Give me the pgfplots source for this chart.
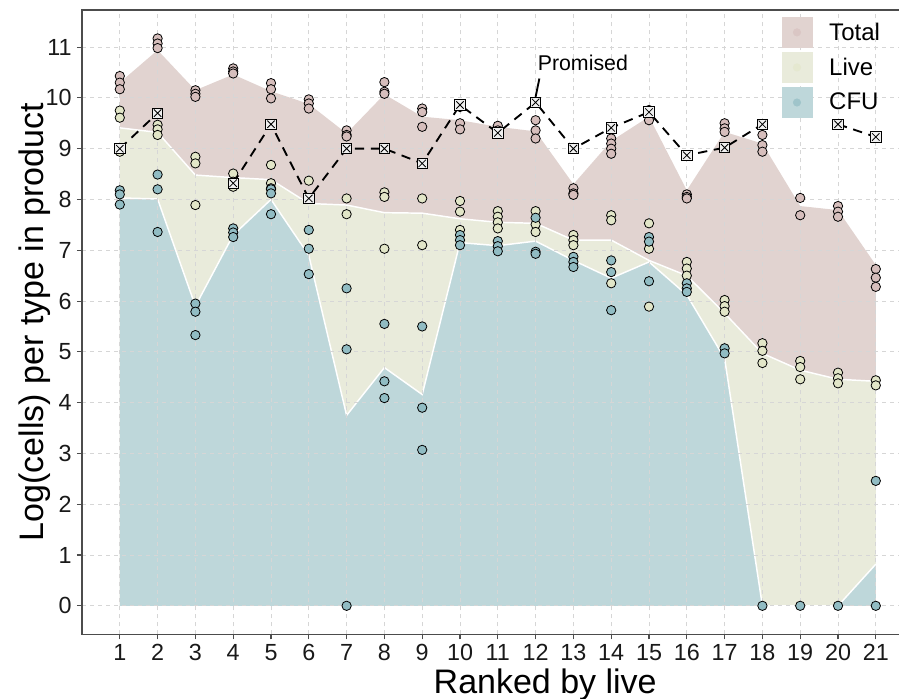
\documentclass[border=0pt]{standalone}
\usepackage{fontspec}
\setmainfont{Liberation Sans}
\usepackage{pgfplots}
\usepackage{pgfplotstable}
\pgfplotsset{compat=1.18}
\definecolor{totalfill}{RGB}{225,211,208}
\definecolor{livefill}{RGB}{233,235,219}
\definecolor{cfufill}{RGB}{190,215,218}
\definecolor{totalpt}{RGB}{214,190,188}
\definecolor{livept}{RGB}{226,230,200}
\definecolor{cfupt}{RGB}{145,188,195}

\pgfplotstableread{
x y
1 10.30
2 10.94
3 10.15
4 10.46
5 10.13
6 9.88
7 9.30
8 10.07
9 9.63
10 9.56
11 9.43
12 9.34
13 8.30
14 9.15
15 9.63
16 8.18
17 9.33
18 9.10
19 7.87
20 7.79
21 6.71
}\totalarea
\pgfplotstableread{
x y
1 9.41
2 9.32
3 8.48
4 8.43
5 8.39
6 7.92
7 7.89
8 7.74
9 7.73
10 7.62
11 7.55
12 7.53
13 7.20
14 7.20
15 6.80
16 6.50
17 5.76
18 4.97
19 4.64
20 4.46
21 4.42
}\livearea
\pgfplotstableread{
x y
1 8.03
2 8.01
3 5.90
4 7.30
5 8.00
6 6.90
7 3.75
8 4.69
9 4.16
10 7.15
11 7.09
12 7.18
13 6.80
14 6.45
15 6.77
16 6.12
17 4.87
18 0
19 0
20 0
21 0.82
}\cfuarea
\pgfplotstableread{
x y
1 10.43
1 10.30
1 10.17
2 11.17
2 11.07
2 10.98
3 10.15
3 10.08
3 10.02
4 10.58
4 10.52
4 10.48
5 10.29
5 10.17
5 9.99
6 9.97
6 9.89
6 9.79
7 9.36
7 9.27
7 9.24
8 10.31
8 10.12
8 10.08
9 9.79
9 9.72
9 9.43
10 9.82
10 9.50
10 9.38
11 9.45
11 9.36
11 9.30
12 9.56
12 9.36
12 9.20
13 8.22
13 8.12
13 8.09
14 9.20
14 9.10
14 9.00
14 8.90
15 9.76
15 9.66
15 9.56
16 8.10
16 8.05
16 8.02
17 9.50
17 9.40
17 9.33
18 9.27
18 9.07
18 8.94
19 8.03
19 7.69
20 7.87
20 7.76
20 7.66
21 6.63
21 6.46
21 6.28
}\totalpts
\pgfplotstableread{
x y
1 9.75
1 9.61
1 8.94
2 9.47
2 9.38
2 9.27
3 8.84
3 8.71
3 7.89
4 8.51
4 8.35
4 8.25
5 8.68
5 8.32
5 8.22
6 8.37
6 8.02
7 8.02
7 7.71
8 8.14
8 8.05
8 7.03
9 8.02
9 7.10
10 7.97
10 7.76
10 7.40
11 7.77
11 7.66
11 7.55
11 7.43
12 7.77
12 7.51
12 7.36
13 7.30
13 7.20
13 7.10
14 7.69
14 7.59
14 6.35
15 7.53
15 7.03
15 5.89
16 6.77
16 6.64
16 6.50
17 6.02
17 5.90
17 5.79
18 5.17
18 5.02
18 4.78
19 4.82
19 4.70
19 4.46
20 4.59
20 4.48
20 4.38
21 4.44
21 4.34
}\livepts
\pgfplotstableread{
x y
1 8.18
1 8.10
1 7.90
2 8.49
2 8.20
2 7.36
3 5.95
3 5.79
3 5.33
4 7.43
4 7.35
4 7.26
5 8.20
5 8.12
5 7.71
6 7.40
6 7.03
6 6.53
7 6.25
7 5.05
7 0
8 5.55
8 4.42
8 4.09
9 5.50
9 3.90
9 3.07
10 7.30
10 7.20
10 7.10
11 7.18
11 7.08
11 6.98
12 7.64
12 6.97
12 6.93
13 6.87
13 6.77
13 6.67
14 6.80
14 6.57
14 5.82
15 7.26
15 7.17
15 6.39
16 6.35
16 6.25
16 6.18
17 5.07
17 4.97
18 0
19 0
20 0
21 2.46
21 0
}\cfupts
\pgfplotstableread{
x y
1 9.00
2 9.70
3 nan
4 8.32
5 9.48
6 8.02
7 9.00
8 9.00
9 8.71
10 9.86
11 9.31
12 9.91
13 9.00
14 9.41
15 9.72
16 8.87
17 9.02
18 9.48
19 nan
20 9.48
21 9.23
}\promised

\begin{document}
\begin{tikzpicture}
\begin{axis}[
  set layers,
  scale only axis,
  width=623.7pt, height=468.2pt,
  xmin=0, xmax=22, ymin=-0.56, ymax=11.73,
  xtick={1,...,21}, ytick={0,...,11},
  tick pos=left,
  tick align=outside,
  major tick length=3.75pt,
  grid=major,
  grid style={dash pattern=on 3pt off 3pt, color=black!16, line width=0.6pt},
  axis line style={color=black!70, line width=0.8pt},
  tick style={color=black!70, line width=0.8pt},
  /pgf/number format/assume math mode=true,
  ticklabel style={font=\fontsize{17.5}{20}\selectfont, text=black!90},
  yticklabel style={xshift=-0.5pt},
  xlabel={Ranked by live},
  ylabel={Log(cells) per type in product},
  label style={font=\fontsize{25.5}{28}\selectfont},
  xlabel style={at={(axis description cs:0.557,-0.0803)}, anchor=center},
  ylabel style={at={(axis description cs:-0.0565,0.5)}, anchor=center},
  legend cell align=left,
  legend style={draw=none, fill=none, inner sep=0pt, outer sep=0pt,
    at={(rel axis cs:0.8414,0.9886)}, anchor=north west,
    row sep=3.4pt, nodes={inner sep=0pt},
    font=\fontsize{18}{20}\selectfont,
    /tikz/every odd column/.append style={column sep=12.75pt}},
  unbounded coords=jump,
]
% areas
\addplot[forget plot, fill=totalfill, draw=none, on layer=axis background] table[x=x,y=y] {\totalarea} \closedcycle;
\addplot[forget plot, fill=livefill, draw=none, on layer=axis background] table[x=x,y=y] {\livearea} \closedcycle;
\addplot[forget plot, fill=cfufill, draw=none, on layer=axis background] table[x=x,y=y] {\cfuarea} \closedcycle;
\addplot[forget plot, white, line width=1.1pt, on layer=axis background] table[x=x,y=y] {\livearea};
\addplot[forget plot, white, line width=1.1pt, on layer=axis background] table[x=x,y=y] {\cfuarea};
% points
\addplot[forget plot, only marks, mark=*, mark size=3.5pt, mark options={fill=totalpt, draw=black, line width=0.6pt}] table[x=x,y=y] {\totalpts};
\addplot[forget plot, only marks, mark=*, mark size=3.5pt, mark options={fill=livept, draw=black, line width=0.6pt}] table[x=x,y=y] {\livepts};
\addplot[forget plot, only marks, mark=*, mark size=3.5pt, mark options={fill=cfupt, draw=black, line width=0.6pt}] table[x=x,y=y] {\cfupts};
% promised
\addplot[forget plot, black, line width=1.4pt, dash pattern=on 7pt off 5pt, mark=square*, mark size=3.9pt, mark options={solid, fill=gray!12, draw=black, line width=0.6pt}] table[x=x,y=y] {\promised};
\addplot[forget plot, only marks, mark=x, mark size=3.9pt, mark options={black, line width=0.6pt}] table[x=x,y=y] {\promised};
\draw[black, line width=1.4pt] (axis cs:12.0,10.02) -- (axis cs:12.1,10.38);
\node[font=\fontsize{16}{18}\selectfont, anchor=center] at (axis cs:13.25,10.68) {Promised};
% legend
\addlegendimage{legend image code/.code={\fill[totalfill] (0pt,-11.25pt) rectangle (22.5pt,11.25pt); \fill[totalpt!60!totalfill] (11.25pt,0pt) circle (2.8pt);}}
\addlegendentry{Total}
\addlegendimage{legend image code/.code={\fill[livefill] (0pt,-11.25pt) rectangle (22.5pt,11.25pt); \fill[livept!60!livefill] (11.25pt,0pt) circle (2.8pt);}}
\addlegendentry{Live}
\addlegendimage{legend image code/.code={\fill[cfufill] (0pt,-11.25pt) rectangle (22.5pt,11.25pt); \fill[cfupt!70!cfufill] (11.25pt,0pt) circle (2.8pt);}}
\addlegendentry{CFU}
\end{axis}
\pgfresetboundingbox
\path[use as bounding box] ([xshift=-61.5pt,yshift=-48pt]current axis.south west) rectangle ([xshift=612.75pt,yshift=7.5pt]current axis.north west);
\end{tikzpicture}
\end{document}
